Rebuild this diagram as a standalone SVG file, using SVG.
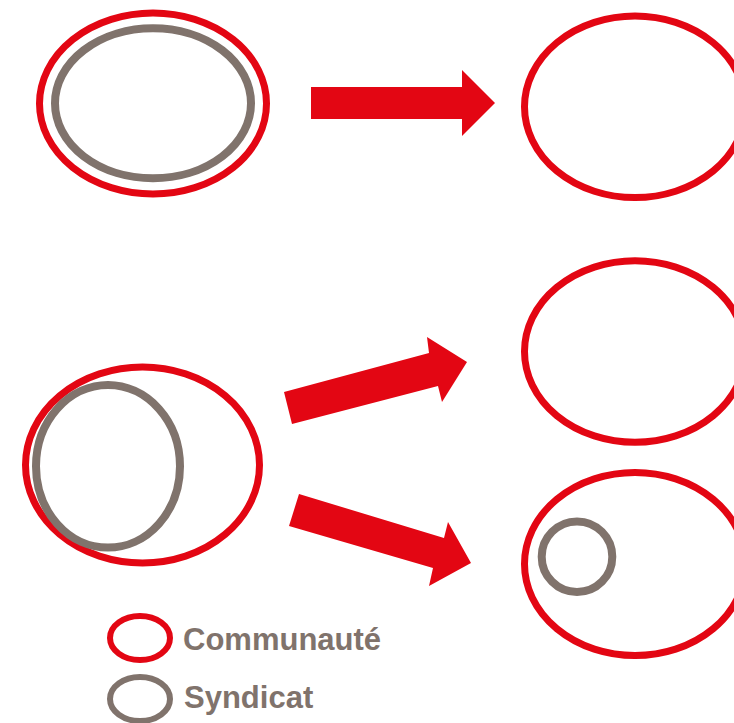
<svg xmlns="http://www.w3.org/2000/svg" width="734" height="723" viewBox="0 0 734 723">
<style>
.com{fill:none;stroke:#e30613;stroke-width:7}
.syn{fill:none;stroke:#80736c;stroke-width:8}
.arrow{fill:#e30613}
.lbl{font-family:"Liberation Sans",Arial,sans-serif;font-weight:bold;font-size:31px;fill:#80736c}
</style>
<rect width="734" height="723" fill="#ffffff"/>
<g id="before-1">
<ellipse class="com" cx="153" cy="103.5" rx="113.5" ry="90.5"/>
<ellipse class="syn" cx="153" cy="103.3" rx="98" ry="75"/>
</g>
<g id="after-1">
<ellipse class="com" cx="635" cy="106.8" rx="110.5" ry="90.8"/>
</g>
<g id="before-2">
<ellipse class="com" cx="142.5" cy="465" rx="117" ry="98"/>
<ellipse class="syn" cx="108" cy="466.3" rx="72" ry="81.3"/>
</g>
<g id="after-2a">
<ellipse class="com" cx="635" cy="351.5" rx="110.5" ry="90.8"/>
</g>
<g id="after-2b">
<ellipse class="com" cx="635" cy="564" rx="110.5" ry="91.6"/>
<circle class="syn" cx="577" cy="556.7" r="35.3"/>
</g>
<g id="connectors">
<polygon class="arrow" points="311,87 462,87 462,70 495,103 462,136 462,119 311,119"/>
<polygon class="arrow" points="284,392 429,353 427,337 467,362 442,402 438,386 292,424"/>
<polygon class="arrow" points="299,494 444,538 448,522 471,563 429,586 433,568 289,526"/>
</g>
<g id="legend">
<ellipse class="com" cx="140" cy="638" rx="30" ry="22" style="stroke-width:6"/>
<ellipse class="syn" cx="140" cy="699" rx="30" ry="22" style="stroke-width:6"/>
<text class="lbl" x="183" y="650">Communauté</text>
<text class="lbl" x="184" y="708">Syndicat</text>
</g>
</svg>
